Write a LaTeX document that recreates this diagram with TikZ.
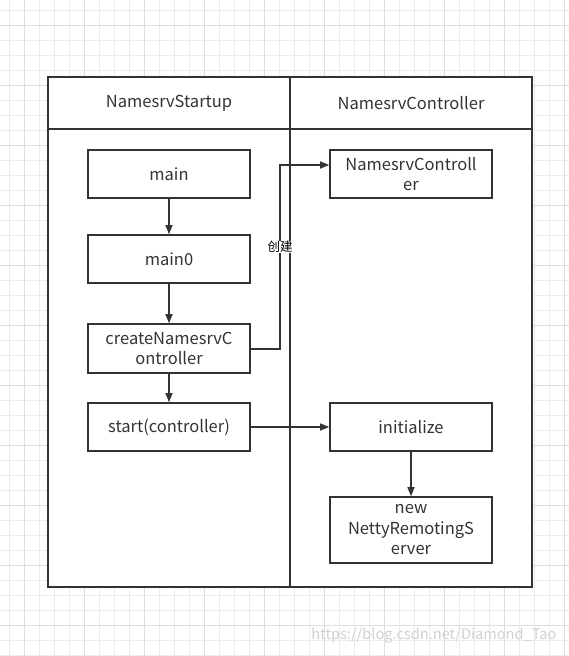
\documentclass[tikz,border=0pt]{standalone}
\usepackage{fontspec}
\setmainfont{Noto Sans CJK SC}
\usetikzlibrary{arrows.meta}
\definecolor{linec}{HTML}{333333}
\definecolor{txtc}{HTML}{333333}
\begin{document}
\begin{tikzpicture}[x=1pt,y=-1pt,
  box/.style={draw=linec,line width=1.6pt,fill=white,minimum width=162pt,minimum height=48pt,align=center,font=\fontsize{16.5}{20.5}\selectfont,text=txtc,inner sep=1pt},
  conn/.style={draw=linec,line width=1.3pt,-{Triangle[length=9pt,width=7pt]}}]
\useasboundingbox (0,0) rectangle (569,656);
\fill[white] (0,0) rectangle (569,656);
% grid
\foreach \x in {9,24,...,569} \draw[black!8,line width=0.8pt] (\x,0) -- (\x,656);
\foreach \y in {10,25,...,656} \draw[black!8,line width=0.8pt] (0,\y) -- (569,\y);
\foreach \x in {24,84,...,569} \draw[black!13,line width=0.8pt] (\x,0) -- (\x,656);
\foreach \y in {25,85,...,656} \draw[black!13,line width=0.8pt] (0,\y) -- (569,\y);
% pool
\draw[linec,line width=1.6pt,fill=white] (48,77) rectangle (532,587);
\draw[linec,line width=1.6pt] (290,77) -- (290,587);
\draw[linec,line width=1.6pt] (48,129) -- (532,129);
\node[text=txtc,font=\fontsize{16.5}{20}\selectfont] (h1) at (169,103) {NamesrvStartup};
\node[text=txtc,font=\fontsize{16.5}{20}\selectfont] (h2) at (411,103) {NamesrvController};
% nodes
\node[box] (main) at (169,174) {main};
\node[box] (main0) at (169,259) {main0};
\node[box,minimum height=49pt] (create) at (169,348.5) {createNamesrvC\\ontroller};
\node[box] (start) at (169,427) {start(controller)};
\node[box] (nc) at (411,174) {NamesrvControll\\er};
\node[box] (init) at (411,427) {initialize};
\node[box,minimum height=66pt] (netty) at (411,530) {new\\NettyRemotingS\\erver};
% edges
\draw[conn] (main) -- (main0);
\draw[conn] (main0) -- (create);
\draw[conn] (create) -- (start);
\coordinate (c1) at (280,349);
\coordinate (c2) at (280,165);
\draw[conn] (create.east |- c1) -- (c1) -- (c2) -- (nc.west |- c2);
\node[fill=white,inner sep=0.5pt,font=\fontsize{12.5}{14}\selectfont,text=black] (lab) at (280,247) {创建};
\draw[conn] (start) -- (init);
\draw[conn] (init) -- (netty);
% watermark
\node[text=black!18,font=\fontsize{14.6}{16}\selectfont,anchor=east] (wm) at (560,636) {https://blog.csdn.net/Diamond\_Tao};
\end{tikzpicture}
\end{document}
